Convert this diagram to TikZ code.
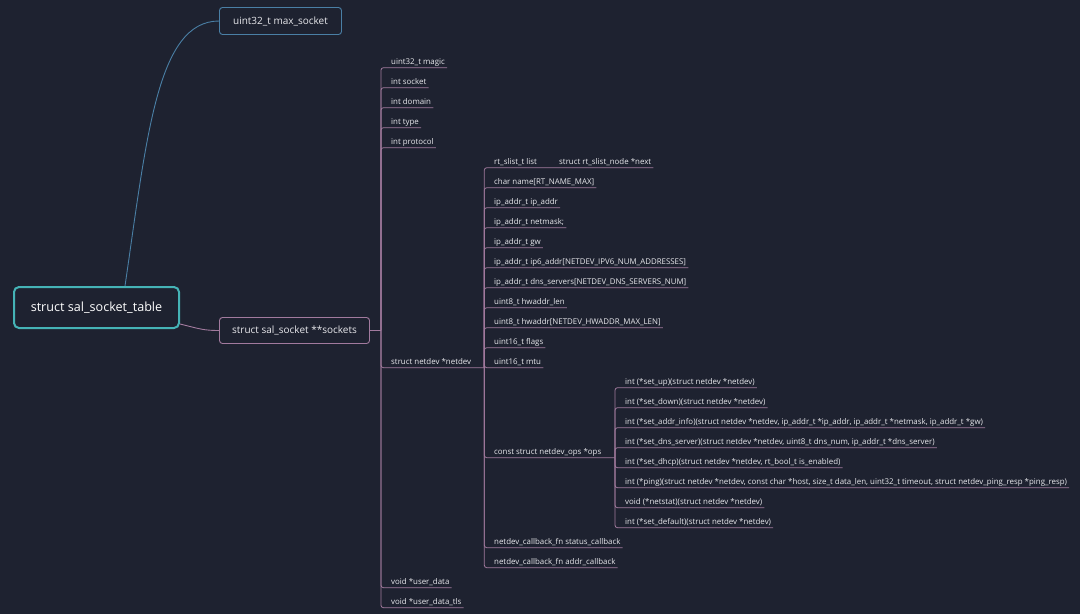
\documentclass[tikz,border=0pt]{standalone}
\usepackage{fontspec}
\setmainfont{Open Sans}
\definecolor{cBg}{HTML}{1E2230}
\definecolor{cRoot}{HTML}{45B3B6}
\definecolor{cBlue}{HTML}{4A7FA5}
\definecolor{cPink}{HTML}{A27A9E}
\definecolor{cTxt}{HTML}{E8E8EC}
\begin{document}
\begin{tikzpicture}[x=1pt,y=-1pt,
  rootbox/.style={draw=cRoot,line width=2pt,rounded corners=5pt,fill=cBg,text=white,
    minimum width=165pt,minimum height=41pt,inner sep=0pt,font=\fontsize{12.6}{15}\selectfont},
  bluebox/.style={draw=cBlue,line width=0.9pt,rounded corners=3pt,fill=cBg,text=cTxt,
    minimum width=122pt,minimum height=27pt,inner sep=0pt,font=\fontsize{10}{12}\selectfont},
  pinkbox/.style={draw=cPink,line width=0.9pt,rounded corners=3pt,fill=cBg,text=cTxt,
    minimum width=150pt,minimum height=26pt,inner sep=0pt,font=\fontsize{10}{12}\selectfont},
  leaf/.style={anchor=south west,inner xsep=2pt,inner ysep=3pt,text depth=0pt,text=cTxt,
    font=\fontsize{7.9}{9}\selectfont},
  bline/.style={draw=cBlue,line width=0.9pt},
  pline/.style={draw=cPink,line width=0.8pt,rounded corners=2.5pt},
]
\fill[cBg] (0,0) rectangle (1080,614);
\useasboundingbox (0,0) rectangle (1080,614);

% main nodes
\node[rootbox] (root) at (96.5,307.5) {struct sal\_socket\_table};
\node[bluebox] (max) at (280.5,21) {uint32\_t max\_socket};
\node[pinkbox] (sockets) at (294.5,330.5) {struct sal\_socket **sockets};

\draw[bline] ([xshift=28.5pt]root.north) .. controls +(22,-150) and +(-62,0) .. (max.west);
\draw[draw=cPink,line width=0.9pt] ([yshift=-16.5pt]root.east) .. controls +(20,5) and +(-15,0) .. (sockets.west);

% level: sockets fields
\draw[pline] (sockets.east) -- ++(11,0) coordinate (sk);
\node[leaf] (magic) at (389,67.7) {uint32\_t magic};
\node[leaf] (socket) at (389,87.7) {int socket};
\node[leaf] (domain) at (389,107.7) {int domain};
\node[leaf] (type) at (389,127.7) {int type};
\node[leaf] (protocol) at (389,147.7) {int protocol};
\node[leaf] (netdev) at (389,367.7) {struct netdev *netdev};
\node[leaf] (udata) at (389,587.7) {void *user\_data};
\node[leaf] (udatatls) at (389,607.7) {void *user\_data\_tls};
\foreach \c in {magic,socket,domain,type,protocol,udata,udatatls}
  \draw[pline] (sk) |- (\c.south east);
\coordinate (ndj) at (484.3,367.7);
\draw[pline] (sk) |- (netdev.south east) -- (ndj);

% level: netdev fields
\node[leaf] (list) at (492,167.7) {rt\_slist\_t list};
\node[leaf] (next) at (557,167.7) {struct rt\_slist\_node *next};
\node[leaf] (name) at (492,187.7) {char name[RT\_NAME\_MAX]};
\node[leaf] (ipaddr) at (492,207.7) {ip\_addr\_t ip\_addr};
\node[leaf] (netmask) at (492,227.7) {ip\_addr\_t netmask;};
\node[leaf] (gw) at (492,247.7) {ip\_addr\_t gw};
\node[leaf] (ipsix) at (492,267.7) {ip\_addr\_t ip6\_addr[NETDEV\_IPV6\_NUM\_ADDRESSES]};
\node[leaf] (dns) at (492,287.7) {ip\_addr\_t dns\_servers[NETDEV\_DNS\_SERVERS\_NUM]};
\node[leaf] (hwlen) at (492,307.7) {uint8\_t hwaddr\_len};
\node[leaf] (hwaddr) at (492,327.7) {uint8\_t hwaddr[NETDEV\_HWADDR\_MAX\_LEN]};
\node[leaf] (flags) at (492,347.7) {uint16\_t flags};
\node[leaf] (mtu) at (492,367.7) {uint16\_t mtu};
\node[leaf] (ops) at (492,457.7) {const struct netdev\_ops *ops};
\node[leaf] (status) at (492,547.7) {netdev\_callback\_fn status\_callback};
\node[leaf] (addrcb) at (492,567.7) {netdev\_callback\_fn addr\_callback};
\draw[pline] (ndj) |- (list.south east) -- (next.south east);
\foreach \c in {name,ipaddr,netmask,gw,ipsix,dns,hwlen,hwaddr,flags,mtu,status,addrcb}
  \draw[pline] (ndj) |- (\c.south east);
\coordinate (opj) at (615,457.7);
\draw[pline] (ndj) |- (ops.south east) -- (opj);

% level: ops fields
\node[leaf] (setup) at (623,387.7) {int (*set\_up)(struct netdev *netdev)};
\node[leaf] (setdown) at (623,407.7) {int (*set\_down)(struct netdev *netdev)};
\node[leaf] (setaddr) at (623,427.7) {int (*set\_addr\_info)(struct netdev *netdev, ip\_addr\_t *ip\_addr, ip\_addr\_t *netmask, ip\_addr\_t *gw)};
\node[leaf] (setdns) at (623,447.7) {int (*set\_dns\_server)(struct netdev *netdev, uint8\_t dns\_num, ip\_addr\_t *dns\_server)};
\node[leaf] (setdhcp) at (623,467.7) {int (*set\_dhcp)(struct netdev *netdev, rt\_bool\_t is\_enabled)};
\node[leaf] (ping) at (623,487.7) {int (*ping)(struct netdev *netdev, const char *host, size\_t data\_len, uint32\_t timeout, struct netdev\_ping\_resp *ping\_resp)};
\node[leaf] (netstat) at (623,507.7) {void (*netstat)(struct netdev *netdev)};
\node[leaf] (setdef) at (623,527.7) {int (*set\_default)(struct netdev *netdev)};
\foreach \c in {setup,setdown,setaddr,setdns,setdhcp,ping,netstat,setdef}
  \draw[pline] (opj) |- (\c.south east);
\end{tikzpicture}
\end{document}
